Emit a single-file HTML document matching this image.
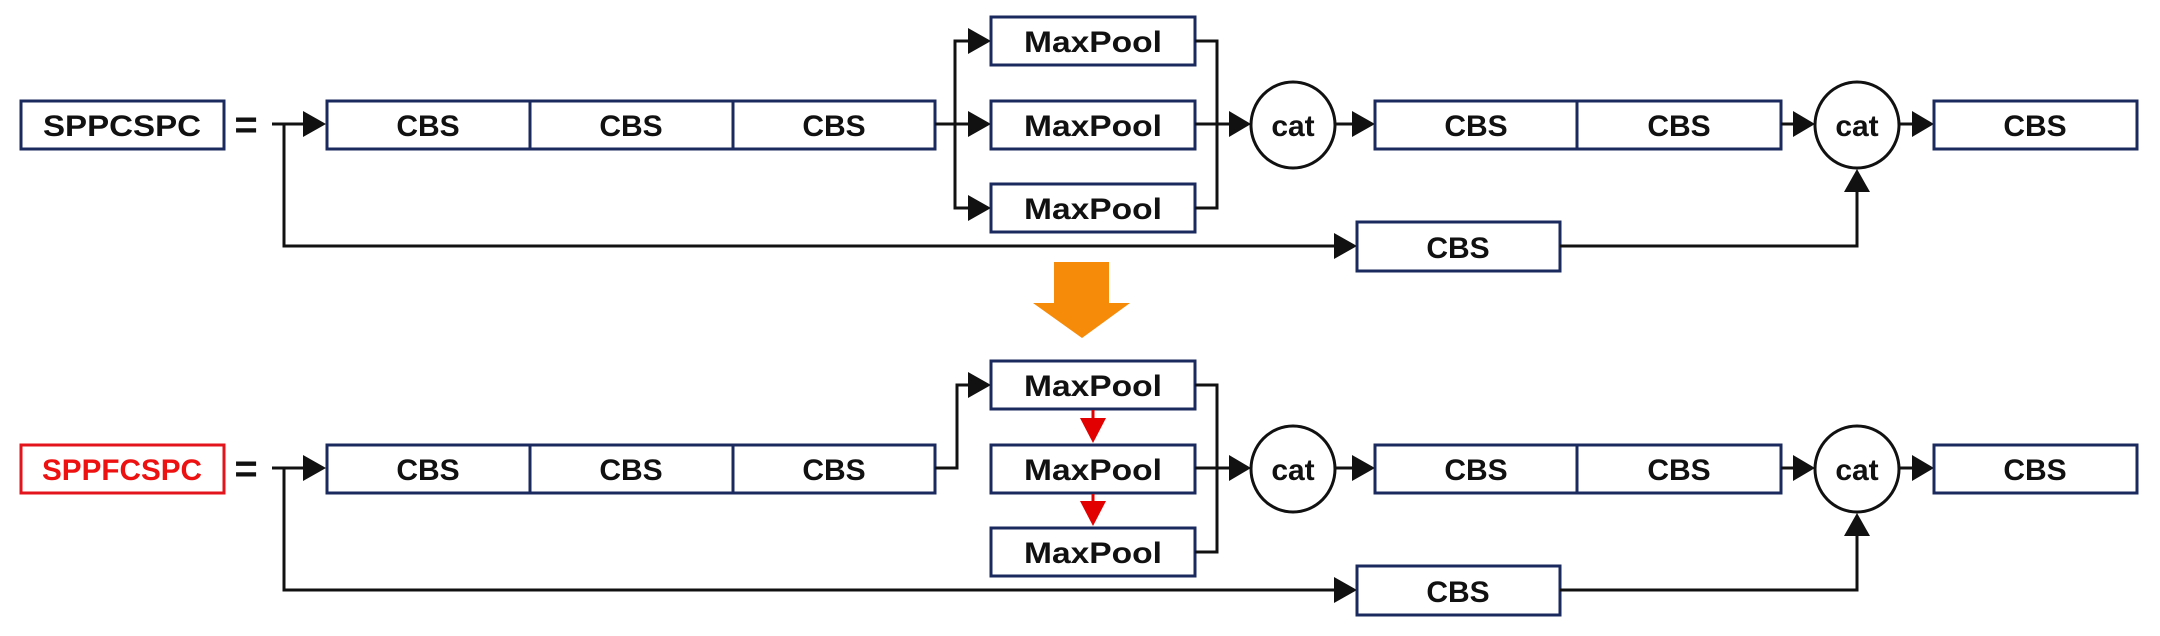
<!DOCTYPE html>
<html><head><meta charset="utf-8"><style>
html,body{margin:0;padding:0;background:#fff;width:2160px;height:636px;overflow:hidden}
text{font-family:"Liberation Sans","DejaVu Sans",sans-serif;font-weight:bold;font-size:30px;fill:#111}
</style></head><body>
<svg width="2160" height="636" viewBox="0 0 2160 636" xmlns="http://www.w3.org/2000/svg">
<defs>
<marker id="a" markerWidth="10" markerHeight="10" refX="9" refY="5" orient="auto" markerUnits="userSpaceOnUse" viewBox="0 0 10 10">
</marker>
</defs>
<g id="row">
</g>
<!-- generated rows below -->
<g stroke-linejoin="miter">
<!-- TOP ROW (offset 0) -->
<g>
<rect x="21" y="101" width="203" height="48" fill="#fff" stroke="#1a2a5e" stroke-width="3"/>
<text x="122" y="136" text-anchor="middle" textLength="158" lengthAdjust="spacingAndGlyphs">SPPCSPC</text>
<text x="246" y="138" text-anchor="middle" style="font-size:40px">=</text>
<polyline points="272,124 305,124" fill="none" stroke="#111" stroke-width="3"/>
<polygon points="303,111 326,124 303,137" fill="#111"/>
<polyline points="284,124 284,246 1335,246" fill="none" stroke="#111" stroke-width="3"/>
<polygon points="1334,233 1357,246 1334,259" fill="#111"/>
<rect x="327" y="101" width="608" height="48" fill="#fff" stroke="#1a2a5e" stroke-width="3"/>
<line x1="530" y1="101" x2="530" y2="149" stroke="#1a2a5e" stroke-width="3"/>
<line x1="733" y1="101" x2="733" y2="149" stroke="#1a2a5e" stroke-width="3"/>
<text x="428" y="136" text-anchor="middle">CBS</text>
<text x="631" y="136" text-anchor="middle">CBS</text>
<text x="834" y="136" text-anchor="middle">CBS</text>
<polyline points="935,124 970,124" fill="none" stroke="#111" stroke-width="3"/>
<polyline points="970,41 955,41 955,208 970,208" fill="none" stroke="#111" stroke-width="3"/>
<polygon points="968,28 991,41 968,54" fill="#111"/>
<polygon points="968,111 991,124 968,137" fill="#111"/>
<polygon points="968,195 991,208 968,221" fill="#111"/>
<rect x="991" y="17" width="204" height="48" fill="#fff" stroke="#1a2a5e" stroke-width="3"/>
<rect x="991" y="101" width="204" height="48" fill="#fff" stroke="#1a2a5e" stroke-width="3"/>
<rect x="991" y="184" width="204" height="48" fill="#fff" stroke="#1a2a5e" stroke-width="3"/>
<text x="1093" y="52" text-anchor="middle" textLength="138" lengthAdjust="spacingAndGlyphs">MaxPool</text>
<text x="1093" y="136" text-anchor="middle" textLength="138" lengthAdjust="spacingAndGlyphs">MaxPool</text>
<text x="1093" y="219" text-anchor="middle" textLength="138" lengthAdjust="spacingAndGlyphs">MaxPool</text>
<polyline points="1195,41 1217,41 1217,208 1195,208" fill="none" stroke="#111" stroke-width="3"/>
<line x1="1195" y1="124" x2="1232" y2="124" stroke="#111" stroke-width="3"/>
<polygon points="1229,111 1251,124 1229,137" fill="#111"/>
<ellipse cx="1293" cy="125" rx="42" ry="43" fill="#fff" stroke="#111" stroke-width="3"/>
<text x="1293" y="136" text-anchor="middle">cat</text>
<line x1="1335" y1="124" x2="1355" y2="124" stroke="#111" stroke-width="3"/>
<polygon points="1352,111 1375,124 1352,137" fill="#111"/>
<rect x="1375" y="101" width="406" height="48" fill="#fff" stroke="#1a2a5e" stroke-width="3"/>
<line x1="1577" y1="101" x2="1577" y2="149" stroke="#1a2a5e" stroke-width="3"/>
<text x="1476" y="136" text-anchor="middle">CBS</text>
<text x="1679" y="136" text-anchor="middle">CBS</text>
<line x1="1781" y1="124" x2="1797" y2="124" stroke="#111" stroke-width="3"/>
<polygon points="1793,111 1815,124 1793,137" fill="#111"/>
<ellipse cx="1857" cy="125" rx="42" ry="43" fill="#fff" stroke="#111" stroke-width="3"/>
<text x="1857" y="136" text-anchor="middle">cat</text>
<line x1="1899" y1="124" x2="1915" y2="124" stroke="#111" stroke-width="3"/>
<polygon points="1912,111 1934,124 1912,137" fill="#111"/>
<rect x="1934" y="101" width="203" height="48" fill="#fff" stroke="#1a2a5e" stroke-width="3"/>
<text x="2035" y="136" text-anchor="middle">CBS</text>
<rect x="1357" y="222" width="203" height="49" fill="#fff" stroke="#1a2a5e" stroke-width="3"/>
<text x="1458" y="258" text-anchor="middle">CBS</text>
<polyline points="1560,246 1857,246 1857,188" fill="none" stroke="#111" stroke-width="3"/>
<polygon points="1844,192 1857,169 1870,192" fill="#111"/>
</g>
<!-- orange arrow -->
<polygon points="1054,262 1109,262 1109,303 1130,303 1082,338 1033,303 1054,303" fill="#f68b0a"/>
<!-- BOTTOM ROW (offset 344) -->
<g transform="translate(0,344)">
<rect x="21" y="101" width="203" height="48" fill="#fff" stroke="#e3141b" stroke-width="3"/>
<text x="122" y="136" text-anchor="middle" textLength="160" lengthAdjust="spacingAndGlyphs" style="fill:#ee1111">SPPFCSPC</text>
<text x="246" y="138" text-anchor="middle" style="font-size:40px">=</text>
<polyline points="272,124 305,124" fill="none" stroke="#111" stroke-width="3"/>
<polygon points="303,111 326,124 303,137" fill="#111"/>
<polyline points="284,124 284,246 1335,246" fill="none" stroke="#111" stroke-width="3"/>
<polygon points="1334,233 1357,246 1334,259" fill="#111"/>
<rect x="327" y="101" width="608" height="48" fill="#fff" stroke="#1a2a5e" stroke-width="3"/>
<line x1="530" y1="101" x2="530" y2="149" stroke="#1a2a5e" stroke-width="3"/>
<line x1="733" y1="101" x2="733" y2="149" stroke="#1a2a5e" stroke-width="3"/>
<text x="428" y="136" text-anchor="middle">CBS</text>
<text x="631" y="136" text-anchor="middle">CBS</text>
<text x="834" y="136" text-anchor="middle">CBS</text>
<polyline points="935,124 957,124 957,41 970,41" fill="none" stroke="#111" stroke-width="3"/>
<polygon points="968,28 991,41 968,54" fill="#111"/>
<rect x="991" y="17" width="204" height="48" fill="#fff" stroke="#1a2a5e" stroke-width="3"/>
<rect x="991" y="101" width="204" height="48" fill="#fff" stroke="#1a2a5e" stroke-width="3"/>
<rect x="991" y="184" width="204" height="48" fill="#fff" stroke="#1a2a5e" stroke-width="3"/>
<text x="1093" y="52" text-anchor="middle" textLength="138" lengthAdjust="spacingAndGlyphs">MaxPool</text>
<text x="1093" y="136" text-anchor="middle" textLength="138" lengthAdjust="spacingAndGlyphs">MaxPool</text>
<text x="1093" y="219" text-anchor="middle" textLength="138" lengthAdjust="spacingAndGlyphs">MaxPool</text>
<line x1="1093" y1="66" x2="1093" y2="78" stroke="#e30000" stroke-width="3"/>
<polygon points="1080,74 1106,74 1093,99" fill="#e30000"/>
<line x1="1093" y1="150" x2="1093" y2="160" stroke="#e30000" stroke-width="3"/>
<polygon points="1080,157 1106,157 1093,182" fill="#e30000"/>
<polyline points="1195,41 1217,41 1217,208 1195,208" fill="none" stroke="#111" stroke-width="3"/>
<line x1="1195" y1="124" x2="1232" y2="124" stroke="#111" stroke-width="3"/>
<polygon points="1229,111 1251,124 1229,137" fill="#111"/>
<ellipse cx="1293" cy="125" rx="42" ry="43" fill="#fff" stroke="#111" stroke-width="3"/>
<text x="1293" y="136" text-anchor="middle">cat</text>
<line x1="1335" y1="124" x2="1355" y2="124" stroke="#111" stroke-width="3"/>
<polygon points="1352,111 1375,124 1352,137" fill="#111"/>
<rect x="1375" y="101" width="406" height="48" fill="#fff" stroke="#1a2a5e" stroke-width="3"/>
<line x1="1577" y1="101" x2="1577" y2="149" stroke="#1a2a5e" stroke-width="3"/>
<text x="1476" y="136" text-anchor="middle">CBS</text>
<text x="1679" y="136" text-anchor="middle">CBS</text>
<line x1="1781" y1="124" x2="1797" y2="124" stroke="#111" stroke-width="3"/>
<polygon points="1793,111 1815,124 1793,137" fill="#111"/>
<ellipse cx="1857" cy="125" rx="42" ry="43" fill="#fff" stroke="#111" stroke-width="3"/>
<text x="1857" y="136" text-anchor="middle">cat</text>
<line x1="1899" y1="124" x2="1915" y2="124" stroke="#111" stroke-width="3"/>
<polygon points="1912,111 1934,124 1912,137" fill="#111"/>
<rect x="1934" y="101" width="203" height="48" fill="#fff" stroke="#1a2a5e" stroke-width="3"/>
<text x="2035" y="136" text-anchor="middle">CBS</text>
<rect x="1357" y="222" width="203" height="49" fill="#fff" stroke="#1a2a5e" stroke-width="3"/>
<text x="1458" y="258" text-anchor="middle">CBS</text>
<polyline points="1560,246 1857,246 1857,188" fill="none" stroke="#111" stroke-width="3"/>
<polygon points="1844,192 1857,169 1870,192" fill="#111"/>
</g>
</g>
</svg>
</body></html>
